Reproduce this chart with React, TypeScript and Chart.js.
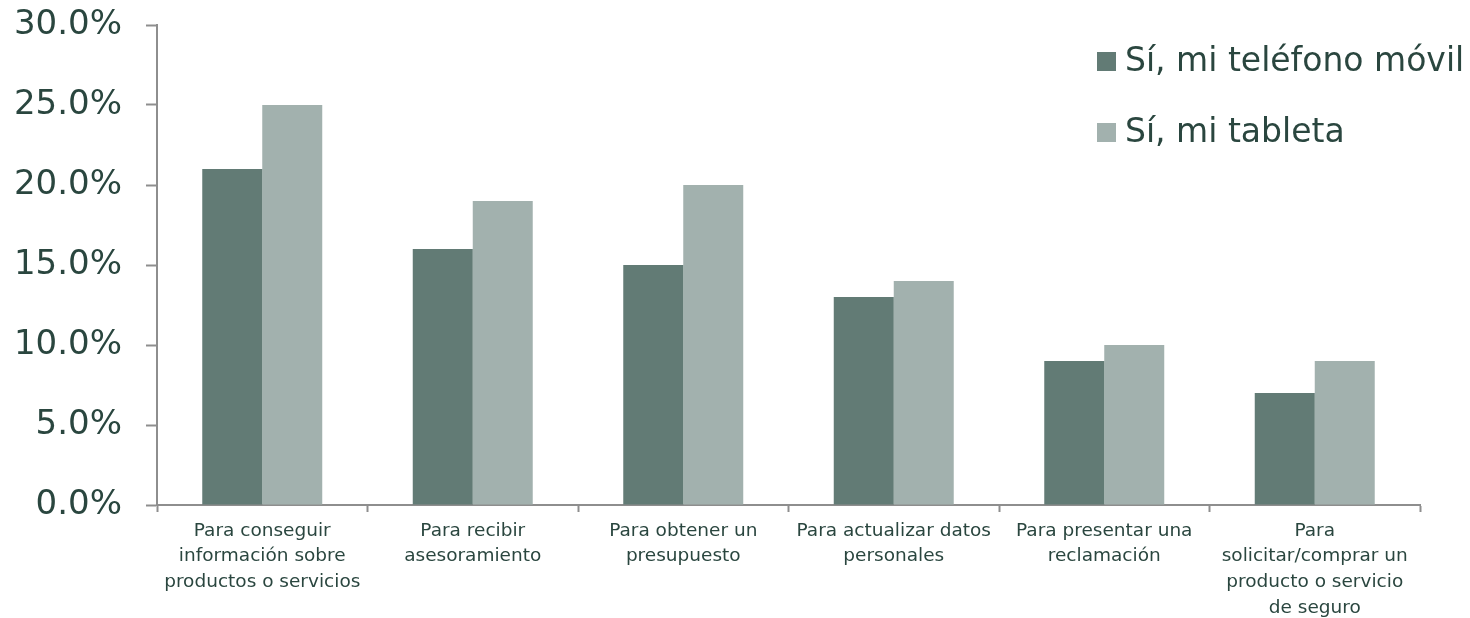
import React, { useEffect, useRef } from "react";
import { Chart, registerables } from "chart.js";

Chart.register(...registerables);

// Uso del dispositivo por finalidad (% de encuestados)
const categories: string[][] = [
  ["Para conseguir", "información sobre", "productos o servicios"],
  ["Para recibir", "asesoramiento"],
  ["Para obtener un", "presupuesto"],
  ["Para actualizar datos", "personales"],
  ["Para presentar una", "reclamación"],
  ["Para", "solicitar/comprar un", "producto o servicio", "de seguro"],
];

const seriesNames = ["Sí, mi teléfono móvil", "Sí, mi tableta"];
const movilValues = [21, 16, 15, 13, 9, 7];
const tabletaValues = [25, 19, 20, 14, 10, 9];

const yTickMin = 0;
const yTickMax = 30;
const yTickStep = 5;

const COLOR_MOVIL = "#627B75";
const COLOR_TABLETA = "#A2B1AE";
const TEXT_COLOR = "#2A463F";
const AXIS_COLOR = "#8E8E8E";
const FONT = "'DejaVu Sans', sans-serif";

// Leyenda dibujada dentro del área del gráfico, arriba a la derecha
const insideLegend = {
  id: "insideLegend",
  afterDraw(chart: Chart) {
    const ctx = chart.ctx;
    const x = 1097;
    const rows = [61.5, 132.5];
    ctx.save();
    ctx.font = `33px ${FONT}`;
    ctx.textBaseline = "middle";
    ctx.textAlign = "left";
    chart.data.datasets.forEach((ds, i) => {
      const y = rows[i];
      ctx.fillStyle = ds.backgroundColor as string;
      ctx.fillRect(x, y - 9.5, 19, 19);
      ctx.fillStyle = TEXT_COLOR;
      ctx.fillText(String(ds.label), x + 28, y + 1);
    });
    ctx.restore();
  },
};

export default function App() {
  const canvasRef = useRef<HTMLCanvasElement | null>(null);

  useEffect(() => {
    if (!canvasRef.current) return;
    const chart = new Chart(canvasRef.current, {
      type: "bar",
      data: {
        labels: categories,
        datasets: [
          {
            label: seriesNames[0],
            data: movilValues,
            backgroundColor: COLOR_MOVIL,
            categoryPercentage: 0.57,
            barPercentage: 1,
          },
          {
            label: seriesNames[1],
            data: tabletaValues,
            backgroundColor: COLOR_TABLETA,
            categoryPercentage: 0.57,
            barPercentage: 1,
          },
        ],
      },
      options: {
        responsive: false,
        animation: false,
        devicePixelRatio: 1,
        layout: { padding: { top: 25, right: 50, left: 0, bottom: 0 } },
        plugins: {
          legend: { display: false },
          tooltip: { enabled: false },
        },
        scales: {
          x: {
            afterFit: (scale: any) => {
              scale.height = 113;
            },
            grid: {
              offset: true,
              drawOnChartArea: false,
              drawTicks: true,
              tickLength: 7,
              tickColor: AXIS_COLOR,
              tickWidth: 2,
            },
            border: { display: true, color: AXIS_COLOR, width: 2 },
            ticks: {
              color: TEXT_COLOR,
              font: { family: FONT, size: 18.5, lineHeight: 1.39 },
              padding: 6,
              maxRotation: 0,
              autoSkip: false,
            },
          },
          y: {
            min: yTickMin,
            max: yTickMax,
            afterFit: (scale: any) => {
              // ancho fijo del eje y sin reservar espacio extra arriba/abajo
              scale.width = 157;
              scale.paddingTop = 0;
              scale.paddingBottom = 0;
            },
            grid: {
              drawOnChartArea: false,
              drawTicks: true,
              tickLength: 11,
              tickColor: AXIS_COLOR,
              tickWidth: 2,
            },
            border: { display: true, color: AXIS_COLOR, width: 2 },
            ticks: {
              stepSize: yTickStep,
              color: TEXT_COLOR,
              font: { family: FONT, size: 34 },
              padding: 24,
              callback: (v: any) => Number(v).toFixed(1) + "%",
            },
          },
        },
      },
      plugins: [insideLegend],
    });
    return () => chart.destroy();
  }, []);

  return (
    <div
      style={{
        position: "fixed",
        left: 0,
        top: 0,
        width: 1470,
        height: 618,
        background: "#ffffff",
      }}
    >
      <canvas ref={canvasRef} width={1470} height={618} />
    </div>
  );
}
